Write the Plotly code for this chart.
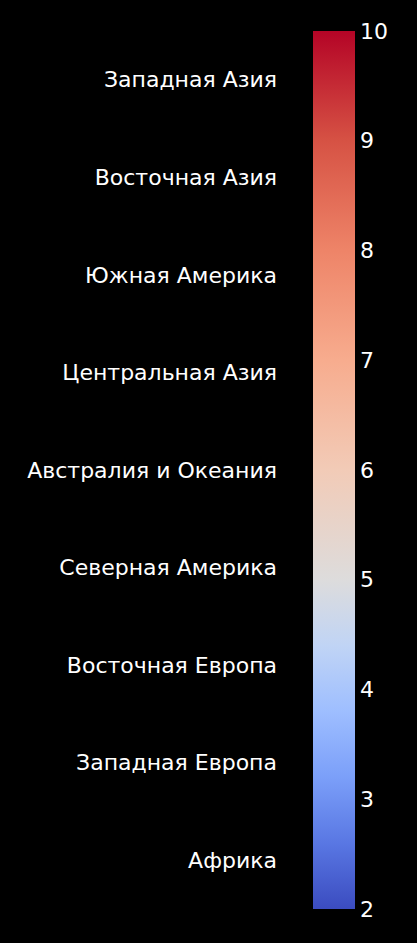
import plotly.graph_objects as go

# Data
regions = [
    "Африка",
    "Западная Европа",
    "Восточная Европа",
    "Северная Америка",
    "Австралия и Океания",
    "Центральная Азия",
    "Южная Америка",
    "Восточная Азия",
    "Западная Азия",
]
columns = [""]
# no cell values are visible in the reference chart
values = [[None] for _ in regions]
zmin, zmax, zcenter = 2, 10, 5
tick_values = [2, 3, 4, 5, 6, 7, 8, 9, 10]

# coolwarm colours, diverging around zcenter
coolwarm = ['#3b4cc0', '#5977e3', '#7b9ff9', '#9ebeff', '#c0d4f5', '#dddcdc',
            '#f2cbb7', '#f7ac8e', '#ee8468', '#d65244', '#b40426']
colorscale = []
n = len(coolwarm) - 1
for i, col in enumerate(coolwarm):
    c = i / n
    if c <= 0.5:
        v = zmin + (zcenter - zmin) * (c / 0.5)
    else:
        v = zcenter + (zmax - zcenter) * ((c - 0.5) / 0.5)
    colorscale.append([(v - zmin) / (zmax - zmin), col])

FONT = "DejaVu Sans"

fig = go.Figure()
fig.add_trace(go.Heatmap(
    z=values, x=columns, y=regions,
    zmin=zmin, zmax=zmax, colorscale=colorscale, showscale=False,
))
fig.add_trace(go.Scatter(
    x=[None, None], y=[None, None], mode="markers", hoverinfo="skip",
    marker=dict(
        color=[zmin, zmax], cmin=zmin, cmax=zmax, colorscale=colorscale,
        showscale=True,
        colorbar=dict(
            xref="container",
            x=313 / 417,
            xanchor="left",
            xpad=0,
            ypad=0,
            len=1,
            thickness=42,
            outlinewidth=0,
            tickvals=tick_values,
            ticktext=[str(t) for t in tick_values],
            tickfont=dict(color="white", size=22, family=FONT),
            ticks="",
        ),
    ),
))

fig.update_layout(
    width=417, height=943,
    paper_bgcolor="black",
    plot_bgcolor="black",
    margin=dict(l=278, r=111, t=31, b=34),
    font=dict(family=FONT, color="white", size=22),
    showlegend=False,
)
fig.update_xaxes(type="category", showticklabels=False, showgrid=False, zeroline=False,
                 showline=False, ticks="", range=[-0.5, 0.5])
fig.update_yaxes(type="category", showgrid=False, zeroline=False, showline=False, ticks="",
                 categoryorder="array", categoryarray=regions,
                 range=[-0.5, len(regions) - 0.5],
                 tickfont=dict(color="white", size=22, family=FONT))

fig.write_html("out.html", config={"displayModeBar": False},
               post_script="document.body.style.margin='0';document.body.style.background='black';")
